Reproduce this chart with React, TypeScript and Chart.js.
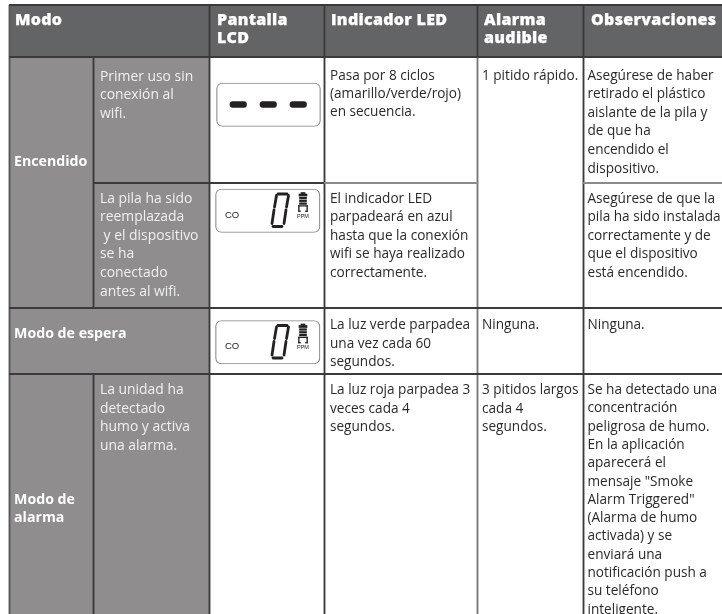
import React, { useEffect, useRef } from "react";
import { Chart, registerables } from "chart.js";

Chart.register(...registerables);

// ---- Table contents ----
const headerModo = ["Modo"];
const headerPantalla = ["Pantalla", "LCD"];
const headerLed = ["Indicador LED"];
const headerAlarma = ["Alarma", "audible"];
const headerObs = ["Observaciones"];

const modeEncendido = ["Encendido"];
const modeEspera = ["Modo de espera"];
const modeAlarma = ["Modo de", "alarma"];

const subPrimer = ["Primer uso sin", "conexión al", "wifi."];
const subPila = ["La pila ha sido", "reemplazada", " y el dispositivo", "se ha", "conectado", "antes al wifi."];
const subUnidad = ["La unidad ha", "detectado", "humo y activa", "una alarma."];

const ledPrimer = ["Pasa por 8 ciclos", "(amarillo/verde/rojo)", "en secuencia."];
const ledPila = ["El indicador LED", "parpadeará en azul", "hasta que la conexión", "wifi se haya realizado", "correctamente."];
const ledEspera = ["La luz verde parpadea", "una vez cada 60", "segundos."];
const ledAlarma = ["La luz roja parpadea 3", "veces cada 4", "segundos."];

const alarmaPrimer = ["1 pitido rápido."];
const alarmaEspera = ["Ninguna."];
const alarmaAlarma = ["3 pitidos largos", "cada 4", "segundos."];

const obsPrimer = ["Asegúrese de haber", "retirado el plástico", "aislante de la pila y", "de que ha", "encendido el", "dispositivo."];
const obsPila = ["Asegúrese de que la", "pila ha sido instalada", "correctamente y de", "que el dispositivo", "está encendido."];
const obsEspera = ["Ninguna."];
const obsAlarma = ["Se ha detectado una", "concentración", "peligrosa de humo.", "En la aplicación", "aparecerá el", "mensaje \"Smoke", "Alarm Triggered\"", "(Alarma de humo", "activada) y se", "enviará una", "notificación push a", "su teléfono", "inteligente."];

const lcdUnit = "PPM";
const lcdGas = "CO";

// ---- Layout (axis units equal pixels) ----
const W = 722;
const H = 614;
const TOP = 5;
const HEAD = 57;
const R1 = 183;
const R2 = 308;
const R3 = 374;
const C0 = 9.5;
const C1 = 93.5;
const C2 = 209.5;
const C3 = 324.5;
const C4 = 477.5;
const C5 = 583.5;

const HEAD_BG = "#636466";
const SIDE_BG = "#8f8d8e";
const DARK = "#3a3a3c";
const MID = "#8a8a8a";
const BOX = "#8b8b8b";
const INK = "#232122";

type Rect = [number, number, number, number];
const headFills: Rect[] = [[C0, W, TOP, HEAD]];
const sideFills: Rect[] = [[C0, C2, HEAD, H]];

type Seg = [number, number, number, string];
// vertical lines: x, y0, y1, colour
const vLines: Seg[] = [
  [C0, TOP, H, "#55565a"],
  [C2, TOP, H, DARK],
  [C3, TOP, H, DARK],
  [C4, TOP, HEAD, DARK],
  [C4, HEAD, H, "#77787b"],
  [C5, TOP, H, DARK],
  [C1, HEAD, R2, DARK],
  [C1, R3, H, DARK],
];
// horizontal lines: y, x0, x1, colour
const hLines: Seg[] = [
  [TOP, C0, W, DARK],
  [HEAD, C0, W, DARK],
  [R1, C1, C3, DARK],
  [R1, C3, C4, MID],
  [R1, C5, W, MID],
  [R2, C0, W, DARK],
  [R3, C0, W, DARK],
];

const lcdBoxes: Rect[] = [
  [216.5, 320.5, 83, 126.5],
  [215.5, 320, 189, 232.5],
  [215.5, 320, 320.5, 364],
];
const dashes: Rect[] = [
  [230, 246.5, 101.5, 107.5],
  [260, 276.5, 101.5, 107.5],
  [290, 306.5, 101.5, 107.5],
];

const rowTops = [189, 320.5];

// Text placement: [lines, x, first baseline, line step, style]
type Style = "head" | "bold" | "body" | "side";
type Block = [string[], number, number, number, Style];
const blocks: Block[] = [
  [headerModo, 15, 24.5, 18.2, "head"],
  [headerPantalla, 217, 24.5, 18.2, "head"],
  [headerLed, 331, 24.5, 18.2, "head"],
  [headerAlarma, 484, 24.5, 18.2, "head"],
  [headerObs, 591, 24.5, 18.2, "head"],
  [modeEncendido, 14, 165.5, 18.2, "bold"],
  [modeEspera, 14, 337.5, 18.2, "bold"],
  [modeAlarma, 14, 503.5, 18.6, "bold"],
  [subPrimer, 100, 81, 18.3, "side"],
  [subPila, 100, 202.5, 18.6, "side"],
  [subUnidad, 100, 394, 18.7, "side"],
  [ledPrimer, 330, 79.5, 18.3, "body"],
  [ledPila, 330, 202.5, 18.6, "body"],
  [ledEspera, 330, 329, 18.7, "body"],
  [ledAlarma, 330, 394, 18.7, "body"],
  [alarmaPrimer, 482, 79.5, 18.3, "body"],
  [alarmaEspera, 482, 329, 18.7, "body"],
  [alarmaAlarma, 482, 394, 18.7, "body"],
  [obsPrimer, 587.5, 79.5, 18.6, "body"],
  [obsPila, 587.5, 202.5, 18.6, "body"],
  [obsEspera, 587.5, 329, 18.7, "body"],
  [obsAlarma, 587.5, 394, 18.3, "body"],
];

const fonts: Record<Style, string> = {
  head: "800 16px 'Open Sans'",
  bold: "700 14.2px 'Open Sans'",
  body: "400 13.6px 'Open Sans'",
  side: "400 13.9px 'Open Sans'",
};
const colors: Record<Style, string> = { head: "#ffffff", bold: "#ffffff", body: "#2b2a2b", side: "#f1f0f0" };

const tableText = {
  id: "tableText",
  afterDatasetsDraw(chart: any) {
    const { ctx, scales } = chart;
    const sx = (v: number) => scales.x.getPixelForValue(v);
    const sy = (v: number) => scales.y.getPixelForValue(v);
    ctx.save();
    ctx.textBaseline = "alphabetic";
    ctx.textAlign = "left";
    for (const [lines, x, y, step, style] of blocks) {
      ctx.font = fonts[style];
      ctx.fillStyle = colors[style];
      ctx.letterSpacing = style === "head" ? "0.3px" : "0px";
      lines.forEach((line, i) => {
        ctx.fillText(line, sx(x), sy(y + i * step));
        if (style === "head") {
          ctx.strokeStyle = colors[style];
          ctx.lineWidth = 0.25;
          ctx.strokeText(line, sx(x), sy(y + i * step));
        }
      });
    }
    ctx.letterSpacing = "0px";
    ctx.fillStyle = INK;
    for (const top of rowTops) {
      ctx.font = "9.5px 'Liberation Sans'";
      ctx.fillText(lcdGas, sx(225), sy(top + 28.5));
      ctx.font = "5.5px 'Liberation Sans'";
      ctx.fillText(lcdUnit, sx(297), sy(top + 28.5));
    }
    ctx.restore();
  },
};

const rectBar = (r: Rect, color: string, extra: object = {}) => ({
  type: "bar" as const,
  data: [{ x: [r[0], r[1]], y: (r[2] + r[3]) / 2 }],
  barThickness: r[3] - r[2],
  backgroundColor: color,
  borderWidth: 0,
  grouped: false,
  ...extra,
});

// One digit "0" and a battery for each LCD, as strokes relative to the box top
const digitSegments: [number, number][][] = [
  [[278, 6], [287, 6]],
  [[276.5, 7.5], [274.5, 19]],
  [[288.5, 7.5], [286.5, 19]],
  [[274, 22], [272, 35.5]],
  [[286, 22], [284, 35.5]],
  [[273, 38.5], [282, 38.5]],
];
const batteryBars: Rect[] = [
  [301, 305, 3.5, 5],
  [299, 307, 5, 7],
  [299.5, 306.5, 8.2, 9.8],
  [299.5, 306.5, 11, 12.6],
  [299.5, 306.5, 13.8, 15.4],
  [298.5, 307.5, 16.6, 17.2],
  [298.5, 299.2, 16.6, 22.5],
  [306.8, 307.5, 16.6, 22.5],
  [298.5, 300.5, 21.9, 22.5],
  [305.5, 307.5, 21.9, 22.5],
];

function App() {
  const ref = useRef<HTMLCanvasElement>(null);
  useEffect(() => {
    document.body.style.margin = "0";
    const datasets: any[] = [];
    headFills.forEach((r) => datasets.push(rectBar(r, HEAD_BG)));
    sideFills.forEach((r) => datasets.push(rectBar(r, SIDE_BG)));
    vLines.forEach(([x, y0, y1, c]) => datasets.push(rectBar([x - 0.6, x + 0.6, y0, y1], c)));
    hLines.forEach(([y, x0, x1, c]) => datasets.push(rectBar([x0, x1, y - 0.6, y + 0.6], c)));
    lcdBoxes.forEach((r) =>
      datasets.push(rectBar(r, "#ffffff", { borderColor: BOX, borderWidth: 1.2, borderRadius: 6, borderSkipped: false }))
    );
    dashes.forEach((r) => datasets.push(rectBar(r, INK, { borderRadius: 3, borderSkipped: false })));
    for (const top of rowTops) {
      digitSegments.forEach((s) =>
        datasets.push({
          type: "scatter",
          showLine: true,
          data: s.map(([x, y]) => ({ x, y: top + y - 1 })),
          borderColor: INK,
          borderWidth: 2.8,
          pointRadius: 0,
          borderCapStyle: "round",
        })
      );
      batteryBars.forEach((b) => datasets.push(rectBar([b[0], b[1], top + b[2], top + b[3]], INK)));
    }
    // Chart.js paints the first dataset last, so the list is reversed to keep the back-to-front order above.
    const chart = new Chart(ref.current as HTMLCanvasElement, {
      type: "bar",
      data: { datasets: datasets.reverse() },
      options: {
        indexAxis: "y",
        animation: false,
        responsive: false,
        layout: { padding: 0 },
        plugins: { legend: { display: false }, tooltip: { enabled: false }, title: { display: false } },
        scales: {
          x: { type: "linear", min: 0, max: W, display: false, offset: false, grid: { display: false } },
          y: { type: "linear", min: 0, max: H, reverse: true, display: false, offset: false, grid: { display: false } },
        },
      } as any,
      plugins: [tableText],
    });
    return () => chart.destroy();
  }, []);
  return <canvas ref={ref} width={W} height={H} style={{ display: "block" }} />;
}

export default App;
